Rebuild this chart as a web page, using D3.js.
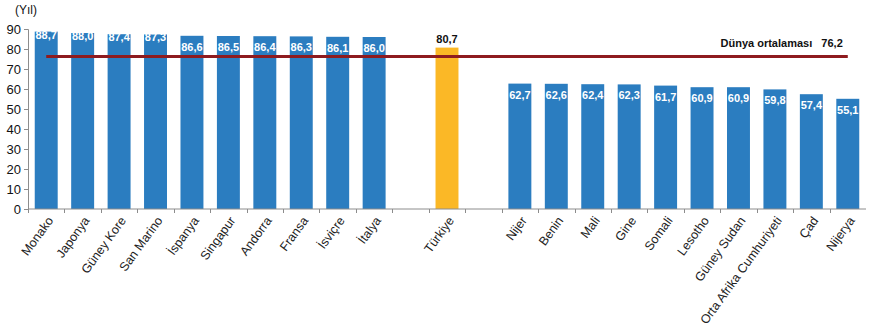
<!DOCTYPE html>
<html>
<head>
<meta charset="utf-8">
<script src="https://cdn.jsdelivr.net/npm/d3@7"></script>
<style>
  body { margin: 0; background: #fff; }
  svg { display: block; font-family: "Liberation Sans", Arial, sans-serif; }
</style>
</head>
<body>
<div id="chart"></div>
<script>
// Data ("_gap" keys are empty slots)
const categories = ["Monako", "Japonya", "Güney Kore", "San Marino", "İspanya", "Singapur", "Andorra", "Fransa", "İsviçre", "İtalya",
  "_gap1", "Türkiye", "_gap2",
  "Nijer", "Benin", "Mali", "Gine", "Somali", "Lesotho", "Güney Sudan", "Orta Afrika Cumhuriyeti", "Çad", "Nijerya"];
const values = [88.7, 88.0, 87.4, 87.3, 86.6, 86.5, 86.4, 86.3, 86.1, 86.0,
  null, 80.7, null,
  62.7, 62.6, 62.4, 62.3, 61.7, 60.9, 60.9, 59.8, 57.4, 55.1];
const highlight = "Türkiye";
const worldAverage = 76.2;
const worldLabel = "Dünya ortalaması";
const yTicks = [0, 10, 20, 30, 40, 50, 60, 70, 80, 90];
const unitLabel = "(Yıl)";

const W = 870, H = 326;
const margin = { left: 28, right: 4, top: 29, bottom: 117 };
const height = H - margin.top - margin.bottom;

const fmt = v => d3.format(".1f")(v).replace(".", ",");
const data = categories.map((c, i) => ({ name: c, value: values[i] }));

const svg = d3.select("#chart").append("svg")
  .attr("width", W)
  .attr("height", H);

const x = d3.scaleBand().domain(categories).range([margin.left, W - margin.right]).padding(0);
const y = d3.scaleLinear().domain([0, 90]).range([margin.top + height, margin.top]);
const barW = x.bandwidth() * 0.63;

// Y axis
const yAxis = svg.append("g")
  .attr("transform", `translate(${margin.left},0)`)
  .call(d3.axisLeft(y).tickValues(yTicks).tickSize(4).tickPadding(3).tickFormat(d3.format("d")));
yAxis.select(".domain").attr("stroke", "#8c8c8c");
yAxis.selectAll(".tick line").attr("stroke", "#8c8c8c");
yAxis.selectAll("text").style("font-size", "13px").attr("fill", "#111");

svg.append("text")
  .attr("x", 15)
  .attr("y", 14)
  .style("font-size", "12px")
  .attr("fill", "#111")
  .text(unitLabel);

// Bars
svg.selectAll("rect.bar")
  .data(data.filter(d => d.value != null))
  .join("rect")
  .attr("class", "bar")
  .attr("x", d => x(d.name) + (x.bandwidth() - barW) / 2)
  .attr("y", d => y(d.value))
  .attr("width", barW)
  .attr("height", d => y(0) - y(d.value))
  .attr("fill", d => d.name === highlight ? "#fbb826" : "#2b7dc0");

// X axis: line + boundary ticks
svg.append("line")
  .attr("x1", margin.left).attr("x2", W - margin.right)
  .attr("y1", y(0)).attr("y2", y(0))
  .attr("stroke", "#8c8c8c");
svg.selectAll("line.xtick")
  .data(categories)
  .join("line")
  .attr("class", "xtick")
  .attr("x1", d => Math.round(x(d)) + 0.5)
  .attr("x2", d => Math.round(x(d)) + 0.5)
  .attr("y1", y(0)).attr("y2", y(0) + 4)
  .attr("stroke", "#8c8c8c");

svg.selectAll("text.xlabel")
  .data(categories.filter(c => !c.startsWith("_")))
  .join("text")
  .attr("class", "xlabel")
  .attr("transform", d => `translate(${x(d) + x.bandwidth() / 2 + 4},${y(0) + 9}) rotate(-54)`)
  .attr("text-anchor", "end")
  .attr("dy", "0.35em")
  .style("font-size", "12.5px")
  .attr("fill", "#222")
  .text(d => d);

// World average line
const first = categories[0], last = categories[categories.length - 1];
svg.append("line")
  .attr("x1", x(first) + x.bandwidth() / 2)
  .attr("x2", x(last) + x.bandwidth() / 2)
  .attr("y1", y(worldAverage))
  .attr("y2", y(worldAverage))
  .attr("stroke", "#8e1b1f")
  .attr("stroke-width", 3);

svg.append("text")
  .attr("x", x(last) + x.bandwidth() / 2 - 5)
  .attr("y", y(worldAverage) - 10)
  .attr("text-anchor", "end")
  .style("font-size", "11px")
  .style("font-weight", "bold")
  .attr("fill", "#111")
  .attr("xml:space", "preserve")
  .text(`${worldLabel}   ${fmt(worldAverage)}`);

// Value labels
svg.selectAll("text.val")
  .data(data.filter(d => d.value != null))
  .join("text")
  .attr("class", "val")
  .attr("x", d => x(d.name) + x.bandwidth() / 2)
  .attr("y", d => d.name === highlight ? y(d.value) - 5 : y(d.value) + (d.value > 87 ? 7 : 15))
  .attr("text-anchor", "middle")
  .style("font-size", "11px")
  .style("font-weight", "bold")
  .attr("fill", d => d.name === highlight ? "#111" : "#fff")
  .text(d => fmt(d.value));
</script>
</body>
</html>
